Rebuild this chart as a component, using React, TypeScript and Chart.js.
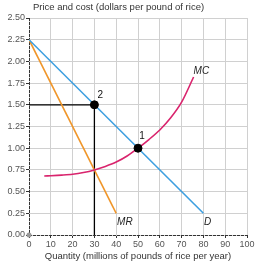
import React, { useEffect, useRef } from "react";
import { Chart, registerables } from "chart.js";

Chart.register(...registerables);

// Demand and marginal revenue (straight lines)
const demandQ = [0, 80];
const demandP = [2.25, 0.25];
const mrQ = [0, 40];
const mrP = [2.25, 0.25];

// Marginal cost curve
const mcQ = [7, 10, 15, 20, 25, 30, 35, 40, 45, 50, 55, 60, 65, 70, 75.5];
const mcP = [0.68, 0.683, 0.69, 0.7, 0.72, 0.75, 0.79, 0.84, 0.91, 1.0, 1.1, 1.21, 1.35, 1.53, 1.82];

// Highlighted points
const pointQ = [50, 30];
const pointP = [1.0, 1.5];
const pointNames = ["1", "2"];

// Axis ticks
const xTicks = [0, 10, 20, 30, 40, 50, 60, 70, 80, 90, 100];
const yTicks = [0, 0.25, 0.5, 0.75, 1.0, 1.25, 1.5, 1.75, 2.0, 2.25, 2.5];

const FONT = "'Liberation Sans', Arial, sans-serif";

const pairs = (xs: number[], ys: number[]) => xs.map((x, i) => ({ x, y: ys[i] }));

const annotations = {
  id: "annotations",
  beforeDatasetsDraw(chart: any) {
    const { ctx, chartArea } = chart;
    // dashed axis lines
    ctx.save();
    ctx.strokeStyle = "#333";
    ctx.lineWidth = 1;
    ctx.setLineDash([3, 1]);
    ctx.beginPath();
    ctx.moveTo(chartArea.left + 0.5, chartArea.top);
    ctx.lineTo(chartArea.left + 0.5, chartArea.bottom);
    ctx.moveTo(chartArea.left, chartArea.bottom + 0.5);
    ctx.lineTo(chartArea.right, chartArea.bottom + 0.5);
    ctx.stroke();
    ctx.restore();
  },
  afterDatasetsDraw(chart: any) {
    const { ctx, scales } = chart;
    const xs = scales.x;
    const ys = scales.y;
    ctx.save();
    // origin dot
    ctx.fillStyle = "#999";
    ctx.beginPath();
    ctx.arc(xs.getPixelForValue(0), ys.getPixelForValue(0), 2.5, 0, Math.PI * 2);
    ctx.fill();

    // curve labels
    ctx.fillStyle = "#222";
    ctx.font = `italic 10px ${FONT}`;
    ctx.textBaseline = "middle";
    ctx.textAlign = "left";
    ctx.fillText("MC", xs.getPixelForValue(75.5), ys.getPixelForValue(1.89));
    ctx.fillText("MR", xs.getPixelForValue(40.4), ys.getPixelForValue(0.15));
    ctx.fillText("D", xs.getPixelForValue(80.3), ys.getPixelForValue(0.15));

    // point labels
    ctx.font = `10px ${FONT}`;
    ctx.fillStyle = "#111";
    ctx.textAlign = "center";
    ctx.fillText(pointNames[0], xs.getPixelForValue(pointQ[0]) + 4, ys.getPixelForValue(pointP[0]) - 12);
    ctx.fillText(pointNames[1], xs.getPixelForValue(pointQ[1]) + 6, ys.getPixelForValue(pointP[1]) - 10);

    // axis titles
    ctx.fillStyle = "#333";
    ctx.font = `9.5px ${FONT}`;
    ctx.textAlign = "left";
    ctx.fillText("Price and cost (dollars per pound of rice)", 33, 7);
    ctx.textAlign = "center";
    ctx.fillText(
      "Quantity (millions of pounds of rice per year)",
      (chart.chartArea.left + chart.chartArea.right) / 2,
      256
    );
    ctx.restore();
  },
};

export default function App() {
  const ref = useRef<HTMLCanvasElement>(null);

  useEffect(() => {
    document.body.style.margin = "0";
    const chart = new Chart(ref.current!, {
      type: "scatter",
      data: {
        datasets: [
          {
            data: [{ x: 0, y: 1.5 }, { x: pointQ[1], y: pointP[1] }, { x: pointQ[1], y: 0 }],
            showLine: true,
            borderColor: "#000",
            borderWidth: 1.3,
            pointRadius: 0,
            order: 5,
          },
          {
            data: pairs(mrQ, mrP),
            showLine: true,
            borderColor: "#f0962a",
            borderWidth: 1.6,
            pointRadius: 0,
            order: 4,
          },
          {
            data: pairs(demandQ, demandP),
            showLine: true,
            borderColor: "#3d9fe0",
            borderWidth: 1.6,
            pointRadius: 0,
            order: 3,
          },
          {
            data: pairs(mcQ, mcP),
            showLine: true,
            borderColor: "#d9246d",
            borderWidth: 1.6,
            pointRadius: 0,
            tension: 0.3,
            order: 2,
          },
          {
            data: pairs(pointQ, pointP),
            showLine: false,
            backgroundColor: "#000",
            borderColor: "#000",
            pointRadius: 4,
            order: 1,
          },
        ],
      },
      options: {
        animation: false,
        responsive: false,
        maintainAspectRatio: false,
        layout: { padding: { top: 18, right: 13, left: 0, bottom: 0 } },
        plugins: { legend: { display: false }, tooltip: { enabled: false } },
        scales: {
          x: {
            type: "linear",
            min: 0,
            max: 100,
            afterFit: (s: any) => {
              s.height = 27;
            },
            afterBuildTicks: (s: any) => {
              s.ticks = xTicks.map((v) => ({ value: v }));
            },
            ticks: { color: "#555", font: { size: 9, family: FONT }, padding: 1, maxRotation: 0 },
            grid: { color: "#d0d0d0", tickColor: "#333", tickLength: 3, lineWidth: 1 },
            border: { display: false },
          },
          y: {
            type: "linear",
            min: 0,
            max: 2.5,
            afterFit: (s: any) => {
              s.width = 29;
            },
            afterBuildTicks: (s: any) => {
              s.ticks = yTicks.map((v) => ({ value: v }));
            },
            ticks: {
              color: "#555",
              font: { size: 9, family: FONT },
              padding: 1,
              callback: (v: any) => Number(v).toFixed(2),
            },
            grid: { color: "#d0d0d0", tickColor: "#333", tickLength: 3, lineWidth: 1 },
            border: { display: false },
          },
        },
      },
      plugins: [annotations],
    } as any);
    return () => chart.destroy();
  }, []);

  return (
    <div style={{ position: "absolute", left: 0, top: 0, width: 260, height: 262 }}>
      <canvas ref={ref} width={260} height={262} style={{ width: 260, height: 262 }} />
    </div>
  );
}
